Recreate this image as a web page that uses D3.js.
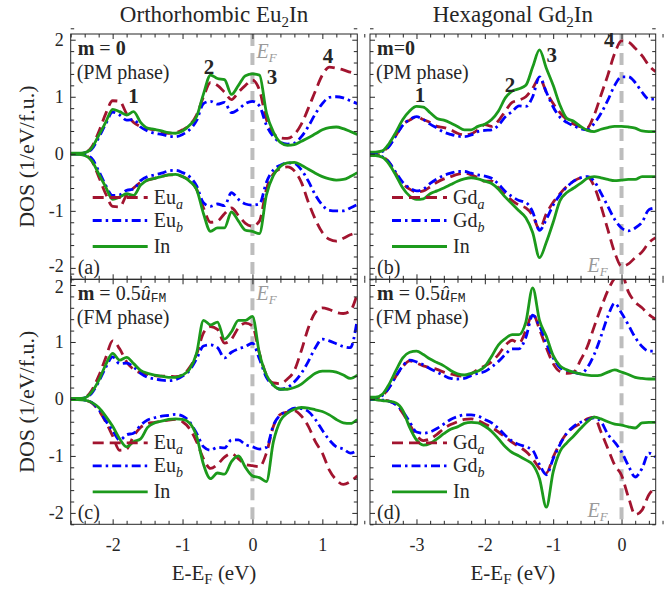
<!DOCTYPE html>
<html>
<head>
<meta charset="utf-8">
<script src="https://cdn.jsdelivr.net/npm/d3@7"></script>
<style>
body { margin: 0; background: #fff; }
svg { display: block; }
text { font-family: 'Liberation Serif', 'Times New Roman', serif; fill: #262626; }
</style>
</head>
<body>
<script>
'use strict';

// energy grids (eV, relative to E_F)
var energyEu = [-2.6,-2.5,-2.4,-2.3,-2.2,-2.1,-2.0,-1.9,-1.8,-1.7,-1.6,-1.5,-1.4,-1.3,-1.2,-1.1,-1.0,-0.9,-0.8,-0.7,
    -0.6,-0.5,-0.4,-0.3,-0.2,-0.1,0.0,0.1,0.2,0.3,0.4,0.5,0.6,0.7,0.8,0.9,1.0,1.1,1.2,1.3,1.4,1.5];
var energyGd = [-3.7,-3.6,-3.5,-3.4,-3.3,-3.2,-3.1,-3.0,-2.9,-2.8,-2.7,-2.6,-2.5,-2.4,-2.3,-2.2,-2.1,-2.0,-1.9,-1.8,
    -1.7,-1.6,-1.5,-1.4,-1.3,-1.2,-1.1,-1.0,-0.9,-0.8,-0.7,-0.6,-0.5,-0.4,-0.3,-0.2,-0.1,0.0,0.1,0.2,0.3,0.4,0.5];

// (a) orthorhombic Eu2In, PM
var euPmEuaUp = [0,0,0.02,0.12,0.38,0.7,0.93,0.92,0.7,0.55, 0.48,0.44,0.42,0.38,0.36,0.37,0.42,0.5,0.68,1.0,
    1.25,1.2,1.08,0.95,1.08,1.2,1.29,1.12,0.6,0.36, 0.28,0.27,0.34,0.52,0.8,1.1,1.38,1.52,1.5,1.47,1.43,1.4];
var euPmEuaDn = [0,0,-0.02,-0.12,-0.4,-0.7,-0.92,-0.93,-0.72,-0.6, -0.5,-0.46,-0.43,-0.4,-0.37,-0.37,-0.4,-0.47,-0.62,-0.95,
    -1.2,-1.18,-1.05,-0.95,-1.08,-1.22,-1.27,-1.18,-0.62,-0.35, -0.26,-0.23,-0.3,-0.5,-0.85,-1.15,-1.38,-1.5,-1.53,-1.48,-1.42,-1.38];
var euPmEubUp = [0,0,0.02,0.08,0.28,0.52,0.73,0.68,0.59,0.6, 0.47,0.4,0.36,0.34,0.31,0.3,0.34,0.42,0.58,0.88,
    0.92,0.87,0.9,0.72,0.78,0.88,0.92,0.84,0.5,0.3, 0.2,0.17,0.19,0.3,0.48,0.7,0.88,0.99,1.0,0.98,0.93,0.88];
var euPmEubDn = [0,0,-0.02,-0.08,-0.3,-0.55,-0.73,-0.72,-0.64,-0.62, -0.47,-0.4,-0.37,-0.34,-0.3,-0.29,-0.33,-0.4,-0.56,-0.86,
    -0.92,-0.88,-0.91,-0.68,-0.8,-0.88,-0.9,-0.88,-0.5,-0.28, -0.2,-0.16,-0.17,-0.28,-0.48,-0.72,-0.9,-0.99,-1.0,-1.0,-0.95,-0.89];
var euPmInUp = [0.01,0.01,0.02,0.1,0.32,0.55,0.78,0.74,0.68,0.74, 0.55,0.45,0.43,0.4,0.37,0.36,0.4,0.5,0.65,1.05,
    1.38,1.32,1.3,1.04,1.2,1.37,1.4,1.38,0.72,0.38, 0.2,0.15,0.16,0.22,0.28,0.35,0.42,0.46,0.47,0.44,0.39,0.34];
var euPmInDn = [-0.01,-0.01,-0.03,-0.12,-0.35,-0.58,-0.8,-0.76,-0.7,-0.73, -0.55,-0.46,-0.43,-0.4,-0.37,-0.36,-0.4,-0.48,-0.62,-1.05,
    -1.36,-1.3,-1.3,-1.02,-1.18,-1.34,-1.36,-1.4,-0.72,-0.38, -0.22,-0.16,-0.15,-0.2,-0.27,-0.34,-0.4,-0.44,-0.46,-0.45,-0.4,-0.33];

// (c) orthorhombic Eu2In, FM
var euFmEuaUp = [0,0,0.02,0.15,0.4,0.72,1.02,0.88,0.65,0.52, 0.46,0.43,0.41,0.4,0.4,0.39,0.42,0.55,0.78,1.16,
    1.27,1.22,0.98,1.05,1.25,1.33,1.28,0.8,0.42,0.28, 0.27,0.35,0.5,0.85,1.25,1.52,1.6,1.57,1.52,1.5,1.55,1.85];
var euFmEuaDn = [0,0,-0.02,-0.07,-0.2,-0.4,-0.65,-0.9,-0.88,-0.65, -0.5,-0.43,-0.41,-0.39,-0.37,-0.36,-0.4,-0.52,-0.75,-1.05,
    -1.22,-1.15,-1.02,-0.96,-1.05,-1.15,-1.17,-1.19,-0.95,-0.48, -0.27,-0.23,-0.21,-0.3,-0.48,-0.75,-0.95,-1.25,-1.42,-1.5,-1.45,-1.35];
var euFmEubUp = [0,0,0.02,0.1,0.3,0.55,0.74,0.62,0.63,0.56, 0.45,0.38,0.35,0.33,0.32,0.34,0.4,0.5,0.7,0.93,
    0.95,0.9,0.72,0.82,0.88,0.92,0.98,0.7,0.38,0.24, 0.17,0.2,0.3,0.45,0.66,0.9,1.05,1.02,0.97,0.92,0.9,1.4];
var euFmEubDn = [0,0,-0.02,-0.06,-0.18,-0.38,-0.55,-0.72,-0.63,-0.6, -0.46,-0.37,-0.33,-0.3,-0.29,-0.27,-0.3,-0.4,-0.6,-0.84,
    -0.9,-0.85,-0.86,-0.72,-0.72,-0.8,-0.84,-0.88,-0.85,-0.46, -0.28,-0.22,-0.16,-0.17,-0.22,-0.36,-0.55,-0.72,-0.84,-0.88,-0.95,-0.9];
var euFmInUp = [0.01,0.01,0.02,0.12,0.32,0.6,0.8,0.68,0.73,0.62, 0.5,0.45,0.42,0.4,0.38,0.38,0.42,0.52,0.8,1.38,
    1.3,1.35,1.05,1.18,1.38,1.38,1.45,0.8,0.42,0.24, 0.17,0.17,0.2,0.26,0.36,0.45,0.49,0.49,0.47,0.42,0.36,0.42];
var euFmInDn = [-0.01,-0.01,-0.02,-0.06,-0.15,-0.3,-0.48,-0.7,-0.84,-0.75, -0.7,-0.5,-0.42,-0.39,-0.36,-0.35,-0.36,-0.42,-0.65,-1.15,
    -1.4,-1.3,-1.32,-1.1,-1.0,-1.2,-1.35,-1.38,-1.45,-0.75, -0.38,-0.25,-0.18,-0.15,-0.16,-0.19,-0.22,-0.28,-0.36,-0.42,-0.43,-0.36];

// (b) hexagonal Gd2In, PM
var gdPmGdaUp = [0.02,0.02,0.04,0.14,0.32,0.51,0.59,0.65,0.6,0.55, 0.48,0.46,0.42,0.36,0.33,0.35,0.42,0.51,0.48,0.58,
    0.75,0.9,0.94,1.0,1.15,1.33,1.08,0.88,0.72,0.6, 0.52,0.47,0.46,0.68,1.03,1.38,1.76,1.98,1.96,1.85,1.72,1.55,1.44];
var gdPmGdaDn = [-0.02,-0.02,-0.05,-0.15,-0.35,-0.52,-0.62,-0.67,-0.65,-0.58, -0.5,-0.44,-0.4,-0.36,-0.34,-0.37,-0.42,-0.48,-0.48,-0.6,
    -0.72,-0.82,-0.9,-0.95,-1.08,-1.32,-1.05,-0.85,-0.7,-0.57, -0.48,-0.42,-0.41,-0.57,-0.92,-1.33,-1.73,-1.97,-1.93,-1.82,-1.72,-1.56,-1.47];
var gdPmGdbUp = [0.02,0.02,0.04,0.13,0.32,0.5,0.6,0.65,0.6,0.52, 0.45,0.38,0.34,0.31,0.3,0.33,0.39,0.41,0.42,0.5,
    0.65,0.74,0.84,0.83,1.0,1.35,1.08,0.82,0.64,0.55, 0.49,0.44,0.42,0.53,0.71,0.94,1.2,1.35,1.35,1.25,1.08,0.96,0.96];
var gdPmGdbDn = [-0.02,-0.02,-0.05,-0.15,-0.33,-0.5,-0.6,-0.65,-0.62,-0.52, -0.44,-0.38,-0.34,-0.31,-0.31,-0.34,-0.37,-0.39,-0.43,-0.53,
    -0.66,-0.75,-0.82,-0.85,-1.02,-1.34,-1.15,-0.9,-0.72,-0.58, -0.48,-0.42,-0.4,-0.48,-0.69,-0.92,-1.15,-1.3,-1.35,-1.3,-1.2,-0.98,-0.95];
var gdPmInUp = [0.03,0.03,0.05,0.18,0.38,0.6,0.75,0.83,0.82,0.72, 0.62,0.59,0.54,0.48,0.42,0.42,0.48,0.52,0.6,0.75,
    0.98,1.1,1.14,1.2,1.52,1.82,1.5,1.2,0.85,0.62, 0.57,0.48,0.41,0.39,0.43,0.46,0.48,0.48,0.47,0.45,0.4,0.39,0.39];
var gdPmInDn = [-0.03,-0.03,-0.06,-0.18,-0.38,-0.6,-0.74,-0.8,-0.79,-0.7, -0.65,-0.6,-0.54,-0.48,-0.44,-0.42,-0.44,-0.48,-0.52,-0.62,
    -0.76,-0.88,-1.0,-1.12,-1.38,-1.82,-1.55,-1.2,-0.82,-0.68, -0.6,-0.52,-0.43,-0.4,-0.42,-0.45,-0.47,-0.46,-0.45,-0.45,-0.4,-0.4,-0.4];

// (d) hexagonal Gd2In, FM
var gdFmGdaUp = [0.02,0.02,0.06,0.2,0.4,0.57,0.67,0.63,0.58,0.55, 0.52,0.47,0.44,0.41,0.4,0.44,0.52,0.58,0.65,0.78,
    0.94,1.03,0.98,1.2,1.5,1.22,0.9,0.62,0.48,0.45, 0.47,0.68,0.92,1.27,1.6,1.9,2.12,2.2,1.88,1.7,1.6,1.48,1.4];
var gdFmGdaDn = [-0.01,-0.01,-0.02,-0.04,-0.1,-0.25,-0.45,-0.64,-0.73,-0.7, -0.62,-0.52,-0.45,-0.4,-0.36,-0.35,-0.38,-0.44,-0.5,-0.58,
    -0.67,-0.76,-0.84,-0.92,-1.05,-1.22,-1.3,-1.02,-0.78,-0.6, -0.5,-0.43,-0.35,-0.32,-0.58,-0.87,-1.16,-1.34,-1.72,-2.03,-1.95,-1.68,-1.57];
var gdFmGdbUp = [0.02,0.02,0.06,0.2,0.4,0.58,0.68,0.65,0.6,0.53, 0.47,0.41,0.36,0.35,0.36,0.41,0.45,0.48,0.56,0.66,
    0.78,0.88,0.88,1.08,1.47,1.28,0.98,0.72,0.55,0.5, 0.47,0.44,0.55,0.78,1.1,1.45,1.68,1.51,1.3,1.08,0.92,0.84,0.84];
var gdFmGdbDn = [-0.01,-0.01,-0.02,-0.04,-0.1,-0.22,-0.4,-0.58,-0.6,-0.58, -0.52,-0.44,-0.36,-0.31,-0.28,-0.28,-0.3,-0.36,-0.42,-0.52,
    -0.64,-0.74,-0.8,-0.84,-0.9,-1.15,-1.33,-1.05,-0.8,-0.6, -0.48,-0.41,-0.37,-0.33,-0.4,-0.62,-0.76,-0.93,-1.17,-1.37,-1.22,-0.95,-1.02];
var gdFmInUp = [0.03,0.03,0.08,0.26,0.5,0.72,0.82,0.84,0.78,0.7, 0.64,0.58,0.5,0.44,0.42,0.45,0.49,0.57,0.75,0.95,
    1.06,1.13,1.13,1.35,1.95,1.38,1.1,0.76,0.58,0.51, 0.47,0.44,0.42,0.41,0.42,0.47,0.51,0.47,0.43,0.38,0.36,0.35,0.35];
var gdFmInDn = [0,-0.01,-0.03,-0.04,-0.07,-0.2,-0.5,-0.72,-0.81,-0.78, -0.7,-0.61,-0.53,-0.49,-0.43,-0.41,-0.42,-0.48,-0.57,-0.7,
    -0.84,-0.94,-1.0,-1.07,-1.15,-1.4,-1.9,-1.28,-0.92,-0.77, -0.65,-0.52,-0.4,-0.32,-0.35,-0.4,-0.44,-0.46,-0.49,-0.51,-0.42,-0.41,-0.41];

var yTicks = [-2, -1, 0, 1, 2];
var xTicksEu = [-2, -1, 0, 1];
var xTicksGd = [-3, -2, -1, 0];
var peakLabels = ['1', '2', '3', '4'];

var series = [
    {color: '#a2142f', dash: '11,6'},
    {color: '#0000ff', dash: '9,4,2.5,4'},
    {color: '#1c9a1c', dash: null}
];

var W = 672, H = 589,
    FONT = "'Liberation Serif', 'Times New Roman', serif",
    INK = '#262626',
    yDomain = [-2.2, 2.1];

var cols = [
    {left: 70.7, right: 357.3, domain: [-2.6, 1.5], energy: energyEu, ticks: xTicksEu,
        element: 'Eu', title: ['Orthorhombic Eu', '2', 'In']},
    {left: 370, right: 655.7, domain: [-3.68, 0.5], energy: energyGd, ticks: xTicksGd,
        element: 'Gd', title: ['Hexagonal Gd', '2', 'In']}
];
var rows = [
    {top: 34, bottom: 279.3, phase: '(PM phase)'},
    {top: 279.3, bottom: 524.3, phase: '(FM phase)'}
];

var panels = [
    {col: 0, row: 0, tag: '(a)', compact: false, ef: 'top',
        lines: [[euPmEuaUp, euPmEuaDn], [euPmEubUp, euPmEubDn], [euPmInUp, euPmInDn]],
        peaks: [[-1.70, 0.89], [-0.62, 1.40], [0.28, 1.22], [1.08, 1.59]]},
    {col: 1, row: 0, tag: '(b)', compact: true, ef: 'bottom',
        lines: [[gdPmGdaUp, gdPmGdaDn], [gdPmGdbUp, gdPmGdbDn], [gdPmInUp, gdPmInDn]],
        peaks: [[-2.95, 0.91], [-1.63, 1.08], [-1.02, 1.61], [-0.18, 1.87]]},
    {col: 0, row: 1, tag: '(c)', compact: false, ef: 'top',
        lines: [[euFmEuaUp, euFmEuaDn], [euFmEubUp, euFmEubDn], [euFmInUp, euFmInDn]],
        peaks: []},
    {col: 1, row: 1, tag: '(d)', compact: false, ef: 'bottom',
        lines: [[gdFmGdaUp, gdFmGdaDn], [gdFmGdbUp, gdFmGdbDn], [gdFmInUp, gdFmInDn]],
        peaks: []}
];

var svg = d3.select('body').append('svg')
    .attr('width', W)
    .attr('height', H)
    .style('background', '#fff');

var defs = svg.append('defs');

function minorValues(lo, hi) {
    // minor ticks every 0.2
    return d3.range(Math.round(lo * 5), Math.round(hi * 5) + 1)
        .map(function(k) { return k / 5; })
        .filter(function(v) { return Math.abs(v - Math.round(v)) > 1e-6; });
}

function tickLayer(g, gen, scale, values, size, pos, fmt, padding) {
    var axis = gen(scale)
        .tickValues(values)
        .tickSizeInner(-size)
        .tickSizeOuter(0)
        .tickPadding(padding || 3)
        .tickFormat(fmt || function() { return ''; });

    var a = g.append('g')
        .attr('transform', pos)
        .style('color', INK)
        .call(axis);
    a.select('.domain').remove();
    a.selectAll('line').attr('stroke-width', 1);
    a.attr('font-family', FONT).attr('font-size', 18);
    return a;
}

function subText(sel, parts, subSize, subStyle, shift) {
    // parts alternate: normal, subscript, normal, ...
    var d = shift || subSize * 0.35;
    parts.forEach(function(t, i) {
        if(!t) return;
        var sp = sel.append('tspan').text(t);
        if(i % 2 === 1) {
            sp.attr('font-size', subSize).attr('dy', d);
            if(subStyle) sp.attr('font-style', subStyle);
        }
        else if(i > 0) {
            sp.attr('dy', -d);
        }
    });
}

function drawPanel(p, idx) {
    var col = cols[p.col],
        row = rows[p.row];

    var x = d3.scaleLinear().domain(col.domain).range([col.left, col.right]),
        y = d3.scaleLinear().domain(yDomain).range([row.bottom, row.top]);

    var g = svg.append('g').attr('class', 'panel panel-' + idx);

    var clipId = 'clip' + idx;
    defs.append('clipPath').attr('id', clipId)
        .append('rect')
        .attr('x', col.left)
        .attr('y', row.top)
        .attr('width', col.right - col.left)
        .attr('height', row.bottom - row.top);

    var plot = g.append('g').attr('clip-path', 'url(#' + clipId + ')');

    // Fermi level
    plot.append('line')
        .attr('x1', x(0)).attr('x2', x(0))
        .attr('y1', row.top).attr('y2', row.bottom)
        .attr('stroke', '#bdbdbd')
        .attr('stroke-width', 4)
        .attr('stroke-dasharray', '12,7');

    var line = d3.line()
        .x(function(d) { return x(d[0]); })
        .y(function(d) { return y(d[1]); })
        .curve(d3.curveMonotoneX);

    series.forEach(function(s, i) {
        p.lines[i].forEach(function(vals) {
            plot.append('path')
                .datum(d3.zip(col.energy, vals))
                .attr('d', line)
                .attr('fill', 'none')
                .attr('stroke', s.color)
                .attr('stroke-width', 2.8)
                .attr('stroke-linejoin', 'round')
                .attr('stroke-dasharray', s.dash);
        });
    });

    // frame
    g.append('rect')
        .attr('x', col.left).attr('y', row.top)
        .attr('width', col.right - col.left)
        .attr('height', row.bottom - row.top)
        .attr('fill', 'none')
        .attr('stroke', INK)
        .attr('stroke-width', 1);

    // ticks on all four sides, pointing inwards
    var minY = minorValues(yDomain[0], yDomain[1]),
        minX = minorValues(col.domain[0], col.domain[1]);
    var yFmt = p.col === 0 ? function(d) { return String(d); } : null,
        xFmt = p.row === 1 ? function(d) { return String(d); } : null;

    tickLayer(g, d3.axisLeft, y, minY, 3.5, 'translate(' + col.left + ',0)');
    var yLab = tickLayer(g, d3.axisLeft, y, yTicks, 5, 'translate(' + col.left + ',0)', yFmt, 7);
    // the -2 of the upper panel and the 2 of the lower one sit close together
    yLab.selectAll('text').attr('dy', function(d) {
        if(p.row === 0 && d === -2) return '0.22em';
        if(p.row === 1 && d === 2) return '0.42em';
        return '0.32em';
    });
    tickLayer(g, d3.axisRight, y, minY, 3.5, 'translate(' + col.right + ',0)');
    tickLayer(g, d3.axisRight, y, yTicks, 5, 'translate(' + col.right + ',0)');
    tickLayer(g, d3.axisBottom, x, minX, 3.5, 'translate(0,' + row.bottom + ')');
    tickLayer(g, d3.axisBottom, x, col.ticks, 5, 'translate(0,' + row.bottom + ')', xFmt, 14);
    tickLayer(g, d3.axisTop, x, minX, 3.5, 'translate(0,' + row.top + ')');
    tickLayer(g, d3.axisTop, x, col.ticks, 5, 'translate(0,' + row.top + ')');

    // E_F label
    var ef = g.append('text')
        .attr('font-size', 20)
        .attr('font-style', 'italic')
        .style('fill', '#9a9a9a');
    if(p.ef === 'top') {
        ef.attr('x', x(0) + 4).attr('y', row.top + (p.row === 0 ? 24 : 21));
    }
    else {
        ef.attr('x', x(0) - 34).attr('y', row.bottom - 7);
    }
    subText(ef, ['E', 'F'], 13, 'italic', 3.5);

    // magnetisation label
    var left = col.left + 7;
    var m = g.append('text')
        .attr('x', left)
        .attr('y', row.top + 21)
        .attr('font-size', 20);
    m.append('tspan').attr('font-weight', 'bold').text('m');
    if(p.row === 0) {
        m.append('tspan').text(p.compact ? '=' : ' = ');
        m.append('tspan').attr('font-weight', 'bold').text('0');
    }
    else {
        m.append('tspan').text(' = 0.5');
        m.append('tspan').attr('font-style', 'italic').text('\u00fb');
        m.append('tspan')
            .attr('font-family', "'Liberation Mono', 'DejaVu Sans Mono', monospace")
            .attr('font-size', 13)
            .attr('dy', 2)
            .text('FM');
    }

    g.append('text')
        .attr('x', left - 1)
        .attr('y', row.top + 45)
        .attr('font-size', 20)
        .text(row.phase);

    g.append('text')
        .attr('x', left)
        .attr('y', row.bottom - 5)
        .attr('font-size', 20)
        .text(p.tag);

    // peak markers
    g.selectAll('text.peak')
        .data(p.peaks)
        .enter().append('text')
            .attr('class', 'peak')
            .attr('x', function(d) { return x(d[0]); })
            .attr('y', function(d) { return y(d[1]); })
            .attr('text-anchor', 'middle')
            .attr('font-size', 21)
            .attr('font-weight', 'bold')
            .text(function(d, i) { return peakLabels[i]; });

    // legend (no box)
    var legendRows = [163.5, 186.5, 212.5],
        names = [[col.element, 'a'], [col.element, 'b'], ['In']];
    series.forEach(function(s, i) {
        var ly = row.top + legendRows[i];
        g.append('line')
            .attr('x1', col.left + 22).attr('x2', col.left + 77)
            .attr('y1', ly).attr('y2', ly)
            .attr('stroke', s.color)
            .attr('stroke-width', 2.8)
            .attr('stroke-dasharray', s.dash);
        var t = g.append('text')
            .attr('x', col.left + 83)
            .attr('y', ly + 6.5)
            .attr('font-size', 20);
        subText(t, names[i], 14, 'italic');
    });
}

panels.forEach(drawPanel);

// column titles
cols.forEach(function(col) {
    var t = svg.append('text')
        .attr('x', (col.left + col.right) / 2)
        .attr('y', 22)
        .attr('text-anchor', 'middle')
        .attr('font-size', 23);
    subText(t, col.title, 15);
});

// y labels
rows.forEach(function(row) {
    svg.append('text')
        .attr('transform', 'translate(34,' + ((row.top + row.bottom) / 2) + ') rotate(-90)')
        .attr('text-anchor', 'middle')
        .attr('font-size', 22)
        .text('DOS (1/eV/f.u.)');
});

// x labels
cols.forEach(function(col) {
    var t = svg.append('text')
        .attr('x', (col.left + col.right) / 2)
        .attr('y', 580)
        .attr('text-anchor', 'middle')
        .attr('font-size', 21);
    subText(t, ['E-E', 'F', ' (eV)'], 15, null, 4);
});
</script>
</body>
</html>
